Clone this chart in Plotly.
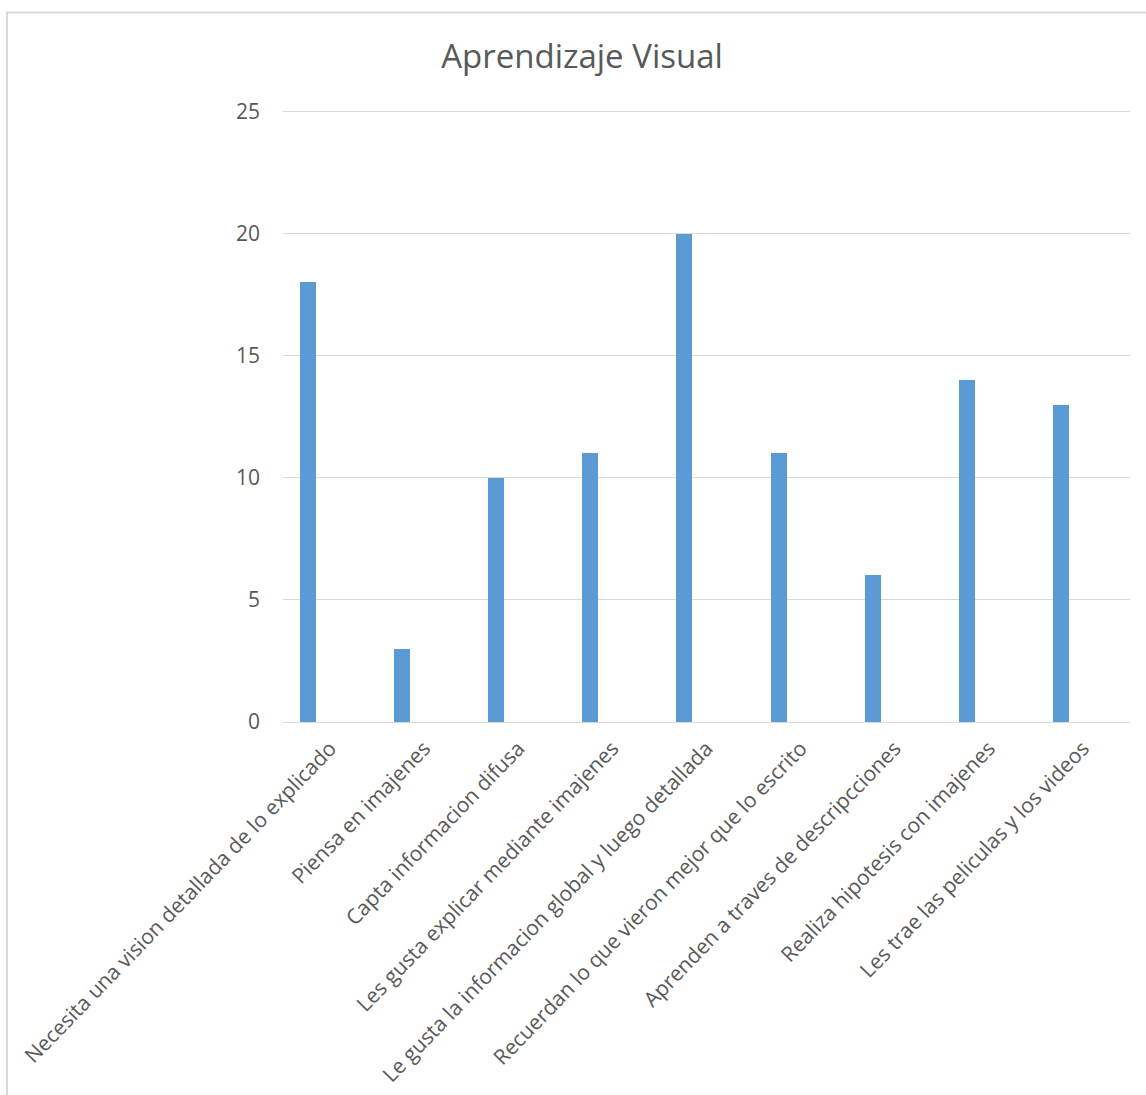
import plotly.graph_objects as go

categories = [
    "Necesita una vision detallada de lo explicado",
    "Piensa en imajenes",
    "Capta informacion difusa",
    "Les gusta explicar mediante imajenes",
    "Le gusta la informacion global y luego detallada",
    "Recuerdan lo que vieron mejor que lo escrito",
    "Aprenden a traves de descripcciones",
    "Realiza hipotesis con imajenes",
    "Les trae las peliculas y los videos",
]
values = [18, 3, 10, 11, 20, 11, 6, 14, 13]
title_text = "Aprendizaje Visual"

W, H = 1146, 1095
px_per_unit = (722 - 111) / 25.0
ytop = 25 + 2.5 / px_per_unit
L, R, B = 283, 16, 373
T = 111 - 2.5
pw = W - L - R
ph = H - T - B

fig = go.Figure()
fig.add_trace(go.Bar(
    x=categories, y=values,
    marker=dict(color="#5B9BD5", line=dict(width=0)),
    width=0.17, offset=-0.319,
))

font_family = "Open Sans, Noto Sans, sans-serif"
fig.update_layout(
    width=W, height=H,
    margin=dict(l=L, r=R, t=T, b=B, autoexpand=False),
    paper_bgcolor="white", plot_bgcolor="white",
    showlegend=False,
    font=dict(family=font_family, color="#595959"),
    title=dict(text=title_text, x=582 / W, xref="container", xanchor="center",
               y=1 - 56 / H, yref="container", yanchor="middle",
               font=dict(size=33, color="#595959", family=font_family)),
    xaxis=dict(type="category", tickangle=-46, showgrid=False, showline=False,
               ticks="", tickfont=dict(size=21, color="#595959"),
               ticklabelstandoff=9,
               range=[-0.5, len(categories) - 0.5]),
    yaxis=dict(range=[0, ytop], tickvals=[0, 5, 10, 15, 20, 25],
               showgrid=True, gridcolor="#D9D9D9",
               gridwidth=1.3, zeroline=True, zerolinecolor="#D9D9D9",
               zerolinewidth=1.3, showline=False, ticks="",
               tickfont=dict(size=21, color="#595959"), ticklabelstandoff=22),
    bargap=0,
    shapes=[dict(type="rect", xref="paper", yref="paper",
                 x0=(7 - L) / pw, x1=(1160 - L) / pw,
                 y0=-(1100 - (T + ph)) / ph, y1=1 + (T - 12) / ph,
                 line=dict(color="#D9D9D9", width=2), fillcolor="rgba(0,0,0,0)",
                 layer="below")],
)

fig.write_html("out.html")
